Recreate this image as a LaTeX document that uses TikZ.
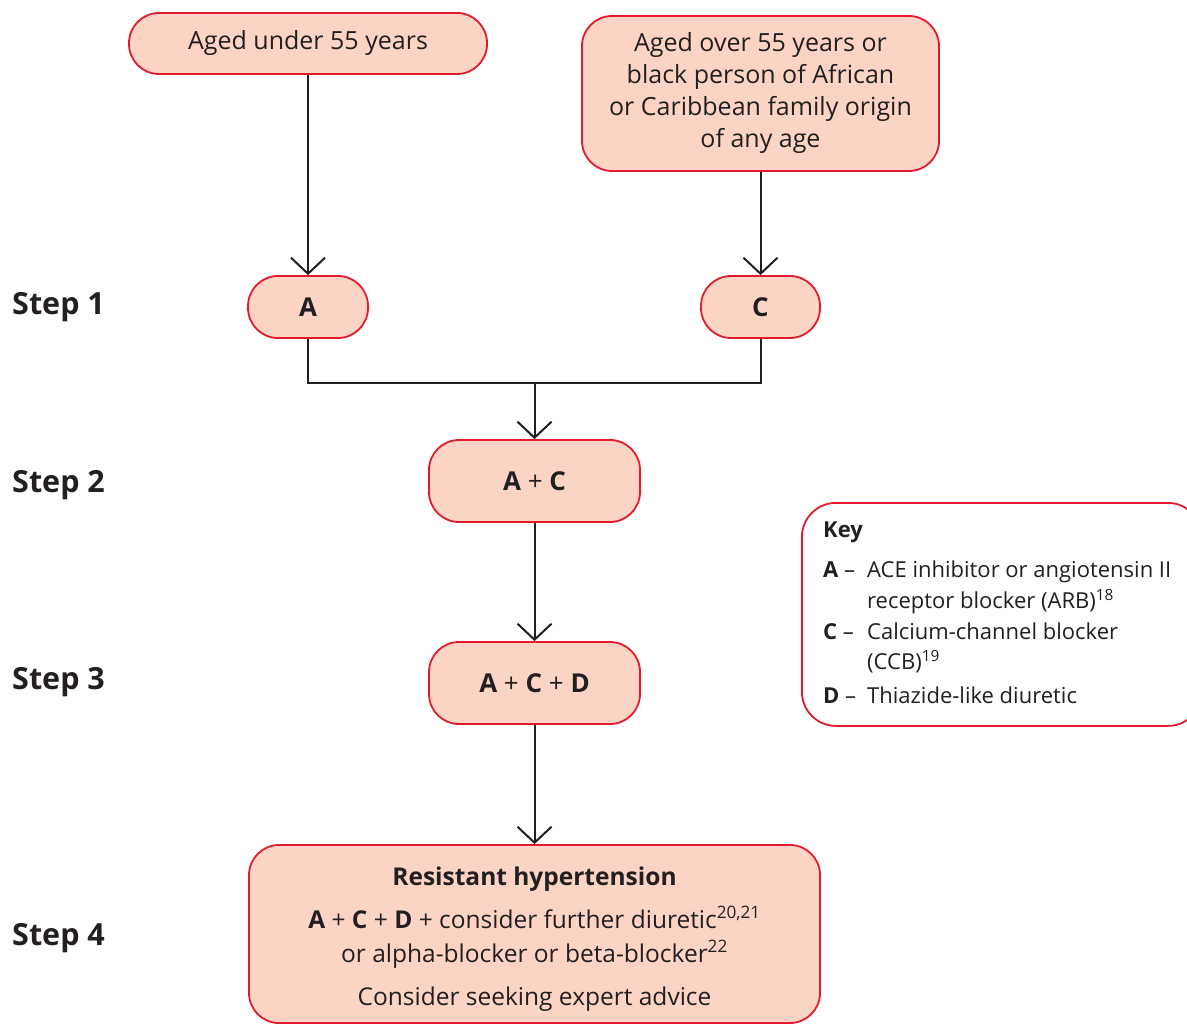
\documentclass[tikz,border=0pt]{standalone}
\usepackage{fontspec}
\setmainfont{Open Sans}
\usetikzlibrary{arrows.meta}
\definecolor{boxfill}{HTML}{FCD4C6}
\definecolor{boxline}{HTML}{E31B2F}
\definecolor{txt}{HTML}{231F20}
\begin{document}
\begin{tikzpicture}[x=1pt,y=-1pt,
  box/.style={draw=boxline, fill=boxfill, line width=1.8pt, rounded corners=30pt,
    inner sep=0pt, text=txt, align=center, font=\fontsize{25}{32}\selectfont},
  boldbox/.style={box, font=\bfseries\fontsize{26}{30}\selectfont},
  lbl/.style={text=txt, inner sep=0pt},
  steplbl/.style={lbl, anchor=base west, font=\bfseries\fontsize{30.5}{34}\selectfont},
  keytxt/.style={lbl, anchor=base west, font=\fontsize{22}{26}\selectfont},
  restxt/.style={lbl, anchor=base, font=\fontsize{24.5}{30}\selectfont},
  arr/.style={-{Straight Barb[length=16pt,width=34pt]}, line width=2pt, draw=txt},
  conn/.style={line width=2pt, draw=txt}]
\useasboundingbox (0,0) rectangle (1187,1024);
\clip (0,0) rectangle (1187,1024);

% boxes
\node[box, minimum width=358pt, minimum height=61pt] (u55) at (308,43.5) {Aged under 55 years};
\node[box, minimum width=357pt, minimum height=155pt] (o55) at (760.5,93.5)
  {Aged over 55 years or\\black person of African\\or Caribbean family origin\\of any age};
\node[boldbox, minimum width=120pt, minimum height=62pt] (A) at (308,307) {A};
\node[boldbox, minimum width=119pt, minimum height=62pt] (C) at (760.5,307) {C};
\node[boldbox, minimum width=211pt, minimum height=82pt] (AC) at (534.5,481) {A \textmd{+} C};
\node[boldbox, minimum width=211pt, minimum height=82pt] (ACD) at (534.5,683) {A \textmd{+} C \textmd{+} D};
\node[box, minimum width=571pt, minimum height=178pt] (res) at (534.5,934) {};

% text of the resistant-hypertension box
\node[restxt, font=\bfseries\fontsize{24.5}{30}\selectfont] (r1) at (534.5,885) {Resistant hypertension};
\node[restxt] (r2) at (534.5,928) {\textbf{A} + \textbf{C} + \textbf{D} + consider further diuretic\textsuperscript{20,21}};
\node[restxt] (r3) at (534.5,962) {or alpha-blocker or beta-blocker\textsuperscript{22}};
\node[restxt] (r4) at (534.5,1005) {Consider seeking expert advice};

% step labels
\node[steplbl] (s1) at (12,315) {Step 1};
\node[steplbl] (s2) at (12,492) {Step 2};
\node[steplbl] (s3) at (12,689) {Step 3};
\node[steplbl] (s4) at (12,945) {Step 4};

% key
\node[draw=boxline, fill=white, line width=1.8pt, rounded corners=34pt, inner sep=0pt,
  minimum width=400pt, minimum height=223pt, anchor=north west] (key) at (801,502) {};
\node[keytxt, font=\bfseries\fontsize{22}{26}\selectfont] (kh) at (823,537) {Key};
\node[keytxt] (ka) at (823,577) {\textbf{A} \textendash};
\node[keytxt] (ka1) at (867,577) {ACE inhibitor or angiotensin II};
\node[keytxt] (ka2) at (867,608) {receptor blocker (ARB)\textsuperscript{18}};
\node[keytxt] (kc) at (823,639) {\textbf{C} \textendash};
\node[keytxt] (kc1) at (867,639) {Calcium-channel blocker};
\node[keytxt] (kc2) at (867,669) {(CCB)\textsuperscript{19}};
\node[keytxt] (kd) at (823,703) {\textbf{D} \textendash};
\node[keytxt] (kd1) at (867,703) {Thiazide-like diuretic};

% connectors
\coordinate (j) at (534.5,383);
\draw[arr] (u55.south) -- (A.north);
\draw[arr] (o55.south) -- (C.north);
\draw[conn] (A.south) |- (j) -| (C.south);
\draw[arr] (j) -- (AC.north);
\draw[arr] (AC.south) -- (ACD.north);
\draw[arr] (ACD.south) -- (res.north);
\end{tikzpicture}
\end{document}
